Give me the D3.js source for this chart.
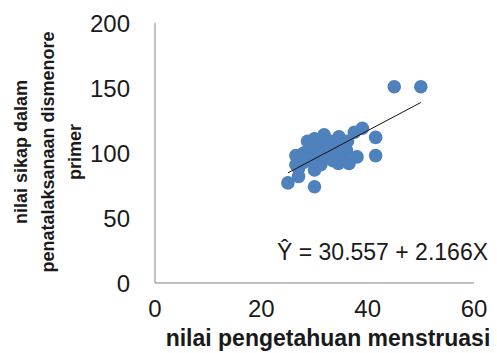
<!DOCTYPE html>
<html>
<head>
<meta charset="utf-8">
<script src="https://cdn.jsdelivr.net/npm/d3@7"></script>
<style>
  body { margin: 0; background: #fff; }
  text { font-family: 'Liberation Sans', Arial, sans-serif; }
</style>
</head>
<body>
<svg id="chart"></svg>
<script>
var width = 497;
var height = 353;

// knowledge score (x) and attitude score (y)
var knowledge = [25, 30, 45, 50, 41.5, 41.5, 39, 37.5, 38, 36.5,
  34.5, 27, 26.5, 26.5, 28.7, 30, 31.8, 34.6, 36.2, 30,
  31.2, 28, 29, 30, 30.5, 31, 32, 32.5, 33, 33,
  34, 35, 35.5, 36, 29, 28, 27.5, 33.5, 34, 27];
var attitude = [77, 74, 151, 151, 112, 98, 119, 116, 97, 92,
  92, 82, 98, 91, 109, 111, 114, 112.5, 109, 87,
  91, 100, 104, 96, 102, 106, 100, 96, 103, 109,
  100, 105, 97, 102, 95, 93, 96, 94, 108, 88];

var xTicks = [0, 20, 40, 60];
var yTicks = [0, 50, 100, 150, 200];
var intercept = 30.557;
var slope = 2.166;
var equation = 'Ŷ = 30.557 + 2.166X';
var xTitle = 'nilai pengetahuan menstruasi';
var yTitle = ['nilai sikap dalam', 'penatalaksanaan dismenore', 'primer'];

var data = knowledge.map((k, i) => ({ x: k, y: attitude[i] }));

var xScale = d3.scaleLinear()
  .domain([0, 60])
  .range([155, 474]);

var yScale = d3.scaleLinear()
  .domain([0, 200])
  .range([283, 23]);

var svg = d3.select('#chart')
  .attr('width', width)
  .attr('height', height);

// axis lines
svg.append('line')
  .attr('x1', xScale(0)).attr('x2', xScale(0))
  .attr('y1', yScale(0)).attr('y2', yScale(200))
  .attr('stroke', '#868686');

svg.append('line')
  .attr('x1', xScale(0)).attr('x2', xScale(60))
  .attr('y1', yScale(0)).attr('y2', yScale(0))
  .attr('stroke', '#868686');

// tick labels
svg.selectAll('.ytick')
  .data(yTicks)
  .enter()
  .append('text')
  .attr('x', 130)
  .attr('y', d => yScale(d))
  .attr('dy', '0.36em')
  .style('text-anchor', 'end')
  .style('font-size', '24px')
  .attr('fill', '#1a1a1a')
  .text(d => d);

svg.selectAll('.xtick')
  .data(xTicks)
  .enter()
  .append('text')
  .attr('x', d => xScale(d))
  .attr('y', 317)
  .style('text-anchor', 'middle')
  .style('font-size', '24px')
  .attr('fill', '#1a1a1a')
  .text(d => d);

// points
svg.selectAll('circle')
  .data(data)
  .enter()
  .append('circle')
  .attr('cx', d => xScale(d.x))
  .attr('cy', d => yScale(d.y))
  .attr('r', 6.8)
  .attr('fill', '#4F81BD');

// linear trend line
var xExt = d3.extent(knowledge);
svg.append('line')
  .attr('x1', xScale(xExt[0]))
  .attr('y1', yScale(intercept + slope * xExt[0]))
  .attr('x2', xScale(xExt[1]))
  .attr('y2', yScale(intercept + slope * xExt[1]))
  .attr('stroke', '#111')
  .attr('stroke-width', 1);

svg.append('text')
  .attr('x', 277)
  .attr('y', 260)
  .style('font-size', '23px')
  .attr('fill', '#1a1a1a')
  .text(equation);

// axis titles
svg.append('text')
  .attr('x', 328)
  .attr('y', 346)
  .style('text-anchor', 'middle')
  .style('font-size', '23px')
  .style('font-weight', 'bold')
  .attr('fill', '#1a1a1a')
  .text(xTitle);

svg.append('text')
  .attr('transform', 'translate(0,152) rotate(-90)')
  .style('text-anchor', 'middle')
  .style('font-size', '18px')
  .style('font-weight', 'bold')
  .attr('fill', '#1a1a1a')
  .selectAll('tspan')
  .data(yTitle)
  .enter()
  .append('tspan')
  .attr('x', 0)
  .attr('y', (d, i) => 27 + i * 27)
  .text(d => d);
</script>
</body>
</html>
